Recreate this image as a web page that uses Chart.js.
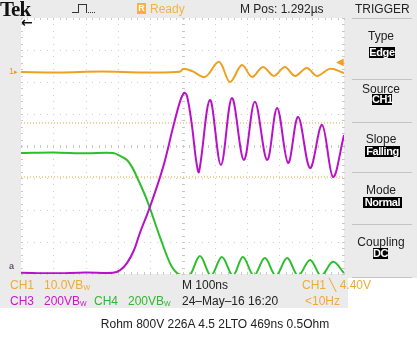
<!DOCTYPE html>
<html><head><meta charset="utf-8">
<script src="https://cdn.jsdelivr.net/npm/chart.js@4.4.1/dist/chart.umd.min.js"></script>
<style>
html,body{margin:0;padding:0;background:#fff;}
#wrap{position:relative;width:417px;height:337px;overflow:hidden;font-family:"Liberation Sans",Arial,sans-serif;}
.g{position:absolute;background:#ebebeb;}
.t{position:absolute;white-space:nowrap;line-height:1;}
.box{position:absolute;background:#000;color:#fff;font-size:11px;line-height:11px;height:11px;text-align:center;font-weight:bold;letter-spacing:-0.4px;}
.sep{position:absolute;left:352px;width:60px;height:1px;background:#c4c4c4;}
.lbl{position:absolute;left:345px;width:72px;text-align:center;font-size:12px;color:#222;line-height:1;}
canvas{position:absolute;left:0;top:0;}
sub{font-size:7px;vertical-align:-1px;}
</style></head>
<body><div id="wrap">
<div class="g" style="left:0;top:0;width:417px;height:18px;"></div>
<div class="g" style="left:0;top:18px;width:21px;height:257px;"></div>
<div class="g" style="left:344px;top:18px;width:73px;height:260px;"></div>
<div class="g" style="left:0;top:274px;width:348px;height:34px;"></div>
<canvas id="c" width="417" height="337"></canvas>

<div class="t" style="left:0px;top:-1px;font-family:'Liberation Serif',serif;font-weight:bold;font-size:21px;color:#111;letter-spacing:-1px;">Tek</div>
<div style="position:absolute;left:72px;top:12px;width:6px;height:0;border-top:1px solid #333;"></div>
<div style="position:absolute;left:78px;top:4px;width:7px;height:8px;border:1px solid #333;border-bottom:none;"></div>
<div style="position:absolute;left:86px;top:12px;width:9px;height:0;border-top:1px dotted #333;"></div>
<div style="position:absolute;left:137px;top:3px;width:9px;height:11px;background:#f5b240;color:#fff;font-size:9px;line-height:11px;text-align:center;font-weight:bold;">R</div>
<div class="t" style="left:150px;top:3px;font-size:12px;color:#f5b240;">Ready</div>
<div class="t" style="left:240px;top:3px;font-size:12px;color:#222;">M Pos: 1.292µs</div>
<div class="t" style="left:355px;top:3px;font-size:12px;color:#222;">TRIGGER</div>
<div class="sep" style="top:18px;"></div>

<div class="t" style="left:21px;top:15px;font-size:14px;font-weight:bold;color:#111;font-family:'DejaVu Sans',sans-serif;">←</div>
<div class="t" style="left:9px;top:67px;font-size:9px;color:#e89a20;">1<span style="font-size:7px;">▸</span></div>
<div class="t" style="left:9px;top:262px;font-size:9px;color:#6a5070;font-weight:bold;">a</div>
<div class="t" style="left:336px;top:57px;font-size:10px;color:#f0a020;">◀</div>

<div class="lbl" style="top:30px;">Type</div>
<div class="box" style="left:369px;top:47px;width:26px;">Edge</div>
<div class="sep" style="top:79px;"></div>
<div class="lbl" style="top:83px;">Source</div>
<div class="box" style="left:372px;top:94px;width:20px;">CH1</div>
<div class="sep" style="top:122px;"></div>
<div class="lbl" style="top:133px;">Slope</div>
<div class="box" style="left:365px;top:146px;width:35px;">Falling</div>
<div class="sep" style="top:172px;"></div>
<div class="lbl" style="top:184px;">Mode</div>
<div class="box" style="left:363px;top:197px;width:39px;">Normal</div>
<div class="sep" style="top:224px;"></div>
<div class="lbl" style="top:236px;">Coupling</div>
<div class="box" style="left:373px;top:248px;width:15px;">DC</div>
<div class="sep" style="top:277px;"></div>

<div class="t" style="left:10px;top:279px;font-size:12px;color:#f2a93a;">CH1&nbsp;&nbsp;&nbsp;10.0VB<sub>W</sub></div>
<div class="t" style="left:10px;top:295px;font-size:12px;color:#c818c8;">CH3&nbsp;&nbsp;&nbsp;200VB<sub>W</sub></div>
<div class="t" style="left:94px;top:295px;font-size:12px;color:#30b830;">CH4&nbsp;&nbsp;&nbsp;200VB<sub>W</sub></div>
<div class="t" style="left:182px;top:279px;font-size:12px;color:#222;">M 100ns</div>
<div class="t" style="left:182px;top:295px;font-size:12px;color:#222;">24–May–16 16:20</div>
<div class="t" style="left:302px;top:279px;font-size:12px;color:#f2a93a;">CH1 ╲ 4.40V</div>
<div class="t" style="left:305px;top:295px;font-size:12px;color:#f2a93a;">&lt;10Hz</div>

<div class="t" style="left:0;width:430px;text-align:center;top:318px;font-size:12px;color:#222;">Rohm 800V 226A 4.5 2LTO 469ns 0.5Ohm</div>
</div>
<script>
// time in ns (M 100ns/div), values in divisions (0 = bottom of screen, 8 = top)
const ch1Time = [0, 120, 250, 380, 492, 502, 530, 570, 613, 647, 684, 715, 749, 783, 817, 848, 885, 916, 957, 1000];
const ch1Vals = [6.31, 6.30, 6.33, 6.30, 6.32, 6.41, 6.34, 6.16, 6.63, 6.00, 6.53, 6.16, 6.47, 6.19, 6.47, 6.19, 6.44, 6.19, 6.41, 6.28];

const ch3Time = [0, 100, 200, 285, 307, 328, 350, 368, 399, 440, 471, 492, 505, 514, 529, 542, 551, 585, 619, 653, 690, 724, 762, 793, 827, 858, 895, 932, 966, 1000];
const ch3Vals = [0.04, 0.02, 0.05, 0.04, 0.12, 0.34, 0.75, 1.28, 2.09, 3.34, 4.59, 5.38, 5.66, 5.56, 4.66, 3.56, 3.19, 5.44, 3.41, 5.50, 3.56, 5.38, 3.56, 5.19, 3.47, 4.91, 3.31, 4.66, 3.03, 4.34];

const ch4Time = [0, 100, 200, 285, 307, 328, 344, 359, 390, 430, 461, 477, 492, 520, 554, 588, 622, 656, 687, 721, 755, 789, 824, 858, 895, 929, 966, 1000];
const ch4Vals = [3.78, 3.80, 3.77, 3.78, 3.69, 3.56, 3.34, 3.03, 2.31, 1.16, 0.34, 0.09, -0.02, -0.08, 0.56, -0.05, 0.53, -0.05, 0.53, -0.05, 0.50, -0.05, 0.50, -0.05, 0.44, -0.05, 0.38, 0.03];

const cursorTime = [0, 1000];
const cursorLevels = [4.72, 3.03];

const xDivs = [0,100,200,300,400,500,600,700,800,900,1000];
const yDivs = [0,1,2,3,4,5,6,7,8];

const pts = (ts, vs) => ts.map((t, i) => ({x: t, y: vs[i]}));

const graticule = {
  id: 'graticule',
  beforeDatasetsDraw(chart) {
    const {ctx, chartArea: a, scales: {x, y}} = chart;
    ctx.save();
    ctx.fillStyle = '#cdcdcd';
    for (const t of xDivs) {
      const px = Math.round(x.getPixelForValue(t));
      for (let k = 0; k <= 40; k++) {
        const py = Math.round(y.getPixelForValue(k / 5));
        ctx.fillRect(px, py, 1, 1);
      }
    }
    for (const v of yDivs) {
      const py = Math.round(y.getPixelForValue(v));
      for (let k = 0; k <= 50; k++) {
        const px = Math.round(x.getPixelForValue(k * 20));
        ctx.fillRect(px, py, 1, 1);
      }
    }
    ctx.fillStyle = '#c8c8c8';
    const cx = Math.round(x.getPixelForValue(500));
    const cy = Math.round(y.getPixelForValue(4));
    for (let k = 0; k <= 40; k++) {
      const py = Math.round(y.getPixelForValue(k / 5));
      ctx.fillRect(cx - 1, py, 3, 1);
      ctx.fillRect(Math.round(a.left), py, 2, 1);
      ctx.fillRect(Math.round(a.right) - 2, py, 2, 1);
    }
    for (let k = 0; k <= 50; k++) {
      const px = Math.round(x.getPixelForValue(k * 20));
      ctx.fillRect(px, cy - 1, 1, 3);
      ctx.fillRect(px, Math.round(a.top), 1, 2);
      ctx.fillRect(px, Math.round(a.bottom) - 2, 1, 2);
    }
    ctx.restore();
  },
  beforeDraw(chart) {
    const {ctx, chartArea: a} = chart;
    ctx.save();
    ctx.fillStyle = '#ffffff';
    ctx.fillRect(a.left, a.top, a.right - a.left, a.bottom - a.top);
    ctx.restore();
  }
};

const trace = (label, data, color, order) => ({
  label, data, borderColor: color, borderWidth: 2, pointRadius: 0,
  tension: 0.35, fill: false, order
});

new Chart(document.getElementById('c'), {
  type: 'line',
  data: {
    datasets: [
      trace('CH1', pts(ch1Time, ch1Vals), '#f0a020', 1),
      trace('CH3', pts(ch3Time, ch3Vals), '#b812c8', 2),
      trace('CH4', pts(ch4Time, ch4Vals), '#2cbf2c', 3),
      {label: 'cursor a', data: pts(cursorTime, [cursorLevels[0], cursorLevels[0]]), borderColor: '#f0a030', borderWidth: 1, borderDash: [1, 2], pointRadius: 0, order: 5},
      {label: 'cursor b', data: pts(cursorTime, [cursorLevels[1], cursorLevels[1]]), borderColor: '#f0a030', borderWidth: 1, borderDash: [1, 2], pointRadius: 0, order: 5}
    ]
  },
  options: {
    responsive: false,
    devicePixelRatio: 1,
    animation: false,
    layout: {padding: {left: 21, top: 18, right: 73, bottom: 63}},
    plugins: {legend: {display: false}, tooltip: {enabled: false}},
    scales: {
      x: {type: 'linear', min: 0, max: 1000, display: false},
      y: {type: 'linear', min: 0, max: 8, display: false}
    }
  },
  plugins: [graticule]
});
</script>
</body></html>
